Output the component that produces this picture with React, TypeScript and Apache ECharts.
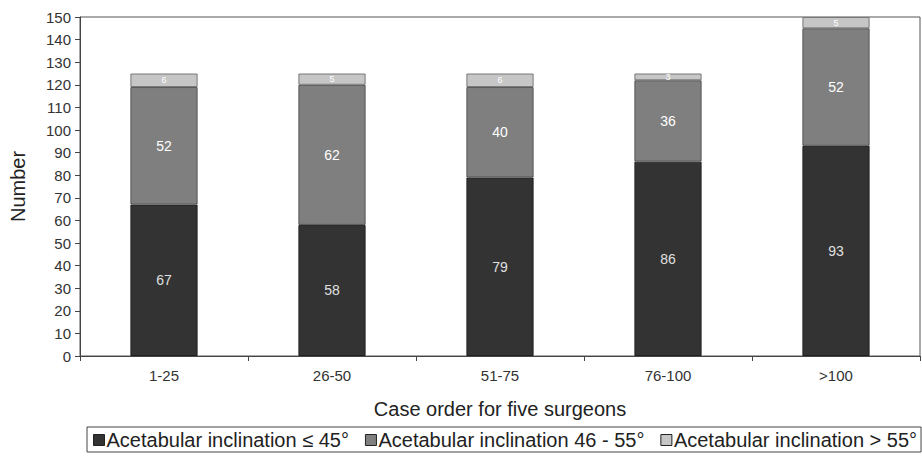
import React, { useEffect, useRef } from "react";
import * as echarts from "echarts";

const categories = ["1-25", "26-50", "51-75", "76-100", ">100"];
const low = [67, 58, 79, 86, 93];
const mid = [52, 62, 40, 36, 52];
const high = [6, 5, 6, 3, 5];
const seriesNames = [
  "Acetabular inclination \u2264 45\u00b0",
  "Acetabular inclination 46 - 55\u00b0",
  "Acetabular inclination > 55\u00b0",
];

const FONT = "Liberation Sans, Arial, sans-serif";

export default function App() {
  const ref = useRef<HTMLDivElement>(null);
  useEffect(() => {
    if (!ref.current) return;
    const chart = echarts.init(ref.current, undefined, { renderer: "svg" });
    const mk = (name: string, data: number[], color: string, border: string, labelColor: string, fs: number) => ({
      name,
      type: "bar",
      stack: "total",
      data,
      barWidth: "40%",
      itemStyle: { color, borderColor: border, borderWidth: 1 },
      label: {
        show: true,
        position: "inside",
        color: labelColor,
        fontFamily: FONT,
        fontSize: fs,
      },
    });
    chart.setOption({
      animation: false,
      textStyle: { fontFamily: FONT },
      grid: {
        left: 80,
        right: 2,
        top: 17,
        bottom: 103,
        show: true,
        borderColor: "#555",
        borderWidth: 1,
        backgroundColor: "transparent",
      },
      legend: {
        left: 87,
        top: 427,
        padding: [3, 4, 2, 6],
        borderColor: "#444",
        borderWidth: 1,
        itemWidth: 11,
        itemHeight: 11,
        itemGap: 16,
        icon: "rect",
        textStyle: { fontFamily: FONT, fontSize: 20, color: "#222", padding: [0, 0, 0, -3] },
        data: seriesNames.map((n) => ({
          name: n,
          itemStyle: { borderColor: "#222", borderWidth: 1 },
        })),
      },
      xAxis: {
        type: "category",
        data: categories,
        name: "Case order for five surgeons",
        nameLocation: "middle",
        nameGap: 43,
        nameTextStyle: { fontFamily: FONT, fontSize: 20, color: "#222" },
        axisLine: { lineStyle: { color: "#444", width: 1 } },
        axisTick: { show: true, length: 5, lineStyle: { color: "#444" } },
        axisLabel: { fontFamily: FONT, fontSize: 15, color: "#333", margin: 12 },
      },
      yAxis: {
        type: "value",
        min: 0,
        max: 150,
        interval: 10,
        name: "Number",
        nameLocation: "middle",
        nameGap: 52,
        nameTextStyle: { fontFamily: FONT, fontSize: 20, color: "#222" },
        axisLine: { show: true, lineStyle: { color: "#444", width: 1 } },
        axisTick: { show: true, length: 5, lineStyle: { color: "#444" } },
        axisLabel: { fontFamily: FONT, fontSize: 15, color: "#333", margin: 9 },
        splitLine: { show: false },
      },
      series: [
        mk(seriesNames[0], low, "#333333", "#222222", "#e0e0e0", 14),
        mk(seriesNames[1], mid, "#7f7f7f", "#555555", "#ffffff", 14),
        mk(seriesNames[2], high, "#c6c6c6", "#777777", "#ffffff", 9),
      ],
    });
    return () => chart.dispose();
  }, []);
  return <div ref={ref} style={{ width: 922, height: 459, position: "absolute", left: 0, top: 0 }} />;
}
